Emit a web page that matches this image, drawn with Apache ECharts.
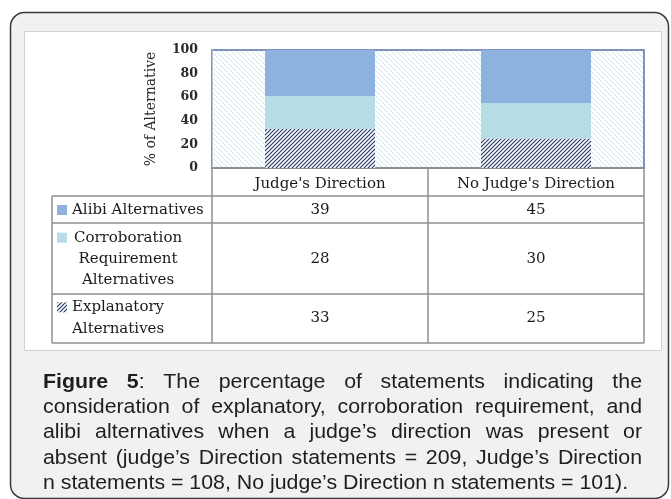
<!DOCTYPE html>
<html><head><meta charset="utf-8">
<script src="https://cdn.jsdelivr.net/npm/echarts@6/dist/echarts.min.js"></script>
<style>html,body{margin:0;padding:0;background:#fff}#c{width:671px;height:499px}</style>
</head><body><div id="c"></div><script>
// ---------- data ----------
const categories = ["Judge's Direction", "No Judge's Direction"];
const rowLabels = [["Alibi Alternatives"], ["Corroboration", "Requirement", "Alternatives"], ["Explanatory", "Alternatives"]];
const alibi = [39, 45];
const corroboration = [28, 30];
const explanatory = [33, 25];
const yTitle = "% of Alternative";
const captionLines = [
  "Figure 5: The percentage of statements indicating the",
  "consideration of explanatory, corroboration requirement, and",
  "alibi alternatives when a judge\u2019s direction was present or",
  "absent (judge\u2019s Direction statements = 209, Judge\u2019s Direction",
  "n statements = 108, No judge\u2019s Direction n statements = 101)."
];

// ---------- styles ----------
const SERIF = '"DejaVu Serif"';
const TXT = '#1a1a1a';
const C_ALIBI = '#8db2e0', C_CORR = '#b6dce6';
function hatch(size, color, bg, lw, dir) {
  const c = document.createElement('canvas'); c.width = c.height = size;
  const g = c.getContext('2d');
  g.fillStyle = bg; g.fillRect(0, 0, size, size);
  g.strokeStyle = color; g.lineWidth = lw; g.beginPath();
  if (dir === '/') {
    g.moveTo(-1, size + 1); g.lineTo(size + 1, -1);
    g.moveTo(-1, 1); g.lineTo(1, -1);
    g.moveTo(size - 1, size + 1); g.lineTo(size + 1, size - 1);
  } else {
    g.moveTo(-1, -1); g.lineTo(size + 1, size + 1);
    g.moveTo(size - 1, -1); g.lineTo(size + 1, 1);
    g.moveTo(-1, size - 1); g.lineTo(1, size + 1);
  }
  g.stroke();
  return { image: c, repeat: 'repeat' };
}
const navyHatch = hatch(4, '#2a3a6a', '#ffffff', 1.2, '/');
const bgHatch = hatch(5, '#c9e4ee', '#ffffff', 1, '\\');

// ---------- graphic: frame, table, caption ----------
const els = [];
els.push({ type: 'rect', z: -10, shape: { x: 10.5, y: 12.5, width: 658, height: 486, r: 14 }, style: { fill: '#f0f1f3', stroke: '#3a3a3a', lineWidth: 1.5 } });
els.push({ type: 'rect', z: -9, shape: { x: 24.5, y: 31.5, width: 637, height: 319 }, style: { fill: '#ffffff', stroke: '#d3d3d3', lineWidth: 1 } });

const TL = 52, C1 = 212, C2 = 428, TR = 644;
const LC = '#8f8f8f';
function ln(x1, y1, x2, y2) { els.push({ type: 'line', z: 5, shape: { x1, y1, x2, y2 }, style: { stroke: LC, lineWidth: 1.5 } }); }
ln(TL, 196, TR, 196); ln(TL, 223, TR, 223); ln(TL, 294, TR, 294); ln(TL, 343, TR, 343);
ln(TL, 196, TL, 343); ln(C1, 168, C1, 343); ln(C2, 168, C2, 343); ln(TR, 168, TR, 343);

const rows = [alibi, corroboration, explanatory];
const rowCenters = [210, 259, 318];
const colCenters = [320, 536];
const markerFill = [C_ALIBI, C_CORR, navyHatch];
function txt(x, y, t, opt) {
  els.push({ type: 'text', z: 6, x, y, style: Object.assign({ text: t, fontFamily: SERIF, fontSize: 15, fill: TXT, align: 'center', verticalAlign: 'middle', textAlign: 'center', textVerticalAlign: 'middle' }, opt || {}) });
}
rows.forEach((vals, r) => {
  vals.forEach((v, c) => txt(colCenters[c], rowCenters[r], String(v)));
});
const LH = 21.3;
rowLabels.forEach((lines, r) => {
  const n = lines.length;
  const y0 = rowCenters[r] - (n - 1) * LH / 2;
  lines.forEach((t, i) => {
    if (r === 1) txt(128, y0 + i * LH, t);
    else txt(72, y0 + i * LH, t, { align: 'left', textAlign: 'left' });
  });
  els.push({ type: 'rect', z: 6, shape: { x: 57, y: y0 - 5, width: 10, height: 10 }, style: { fill: markerFill[r] } });
});

// caption (justified)
const CAP_FS = 20.5, CAP_SX = 1.04, CAP_L = 43, CAP_R = 642, CAP_Y0 = 382, CAP_LH = 25.3;
const mctx = document.createElement('canvas').getContext('2d');
function mw(t, b) { mctx.font = (b ? 'bold ' : '') + CAP_FS + 'px "Liberation Sans"'; return mctx.measureText(t).width * CAP_SX; }
captionLines.forEach((line, li) => {
  const words = line.split(' ');
  const runs = words.map((w, wi) => {
    if (li === 0 && wi === 0) return [[w, true]];
    if (li === 0 && wi === 1) return [[w.replace(':', ''), true], [':', false]];
    return [[w, false]];
  });
  const widths = runs.map(rr => rr.reduce((s, [t, b]) => s + mw(t, b), 0));
  const total = widths.reduce((a, b) => a + b, 0);
  const last = li === captionLines.length - 1;
  const gap = last ? mw(' ', false) : (CAP_R - CAP_L - total) / (words.length - 1);
  let x = CAP_L;
  const y = CAP_Y0 + li * CAP_LH;
  runs.forEach(rr => {
    rr.forEach(([t, b]) => {
      els.push({ type: 'text', z: 6, x, y, scaleX: CAP_SX, style: { text: t, fontFamily: '"Liberation Sans"', fontSize: CAP_FS, fontWeight: b ? 'bold' : 'normal', fill: '#1e1e1e', align: 'left', verticalAlign: 'middle', textAlign: 'left', textVerticalAlign: 'middle' } });
      x += mw(t, b);
    });
    x += gap;
  });
});

// ---------- chart ----------
const chart = echarts.init(document.getElementById('c'), null, { renderer: 'canvas' });
chart.setOption({
  animation: false,
  backgroundColor: '#ffffff',
  grid: { left: 212, top: 50, width: 432, height: 118, show: true, backgroundColor: bgHatch, borderColor: '#5670a6', borderWidth: 1.5 },
  xAxis: {
    type: 'category', data: categories,
    axisLine: { lineStyle: { color: LC, width: 1.5 } }, axisTick: { show: false },
    axisLabel: { fontFamily: SERIF, fontSize: 15, color: TXT, margin: 7, lineHeight: 18 }
  },
  yAxis: {
    type: 'value', min: 0, max: 100, interval: 20,
    axisLine: { show: true, lineStyle: { color: '#b9c6d8', width: 1 } }, axisTick: { show: false }, splitLine: { show: false },
    axisLabel: { fontFamily: SERIF, fontWeight: 'bold', fontSize: 12.5, color: '#2a2a2a', margin: 14 },
    name: yTitle, nameLocation: 'middle', nameGap: 54,
    nameTextStyle: { fontFamily: SERIF, fontSize: 14, color: '#2a2a2a' }
  },
  series: [
    { name: rowLabels[2].join(' '), type: 'bar', stack: 's', barWidth: 110, data: explanatory, itemStyle: { color: navyHatch } },
    { name: rowLabels[1].join(' '), type: 'bar', stack: 's', barWidth: 110, data: corroboration, itemStyle: { color: C_CORR } },
    { name: rowLabels[0].join(' '), type: 'bar', stack: 's', barWidth: 110, data: alibi, itemStyle: { color: C_ALIBI } }
  ],
  graphic: { elements: els }
});
</script></body></html>
